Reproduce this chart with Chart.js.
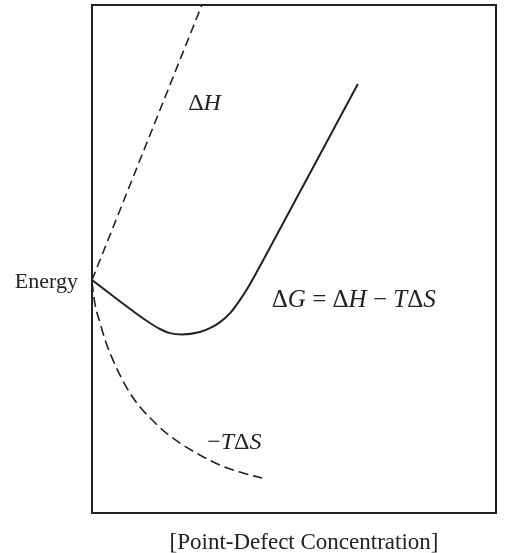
<!DOCTYPE html>
<html lang="en">
<head>
  <meta charset="UTF-8"/>
  <title>Point-defect free energy</title>
  <script src="https://cdn.jsdelivr.net/npm/chart.js"></script>
  <style>
    html, body { margin: 0; padding: 0; background: #fff; }
    #wrap { width: 515px; height: 553px; }
  </style>
</head>
<body>
  <div id="wrap"><canvas id="chart" width="515" height="553"></canvas></div>

  <script>
    // Schematic data (concentration 0-100, energy in arbitrary units, 0 = start)
    const enthalpyX = [0, 27.2];
    const enthalpyY = [0, 100];

    const gibbsX = [0, 13.6, 16.8, 19.3, 22.3, 26.7, 29.2, 31.7, 34.2, 36.6, 39.1, 42.1, 65.8];
    const gibbsY = [0, -14.9, -17.8, -19.3, -19.8, -18.9, -17.5, -15.3, -12.0, -7.3, -1.5, 6.5, 71.3];

    const entropyX = [0, 0.7, 2.0, 3.5, 5.2, 6.9, 9.4, 11.9, 14.9, 18.1, 21.8, 26.7, 31.7, 36.6, 42.1];
    const entropyY = [-0.7, -8.4, -15.6, -22.9, -29.1, -34.5, -41.1, -46.2, -50.9, -55.3, -59.3, -63.6, -67.3, -69.8, -72.0];

    const xTitle = '[Point-Defect Concentration]';
    const yTitle = 'Energy';

    const toPoints = (xs, ys) => xs.map((x, i) => ({ x: x, y: ys[i] }));
    const ink = '#222';

    // Box, axis labels and curve labels
    const labelsPlugin = {
      id: 'labels',
      afterDraw(chart) {
        const ctx = chart.ctx;
        const a = chart.chartArea;
        const xs = chart.scales.x, ys = chart.scales.y;
        ctx.save();
        ctx.strokeStyle = ink;
        ctx.lineWidth = 2;
        ctx.strokeRect(a.left, a.top, a.right - a.left, a.bottom - a.top);

        ctx.fillStyle = '#222';
        ctx.textBaseline = 'middle';
        ctx.font = '22px "Liberation Serif"';
        ctx.textAlign = 'right';
        ctx.fillText(yTitle, a.left - 14, ys.getPixelForValue(0) + 2);
        ctx.font = '23px "Liberation Serif"';
        ctx.textAlign = 'center';
        ctx.fillText(xTitle, (a.left + a.right) / 2 + 10, a.bottom + 30);

        // mixed upright / italic text runs
        function runs(parts, x, y, size) {
          ctx.textAlign = 'left';
          let cx = x;
          parts.forEach(p => {
            ctx.font = (p[1] ? 'italic ' : '') + size + 'px "Liberation Serif"';
            ctx.fillText(p[0], cx, y);
            cx += ctx.measureText(p[0]).width;
          });
        }
        runs([['\u0394', 0], ['H', 1]], xs.getPixelForValue(23.8), ys.getPixelForValue(64), 24);
        runs([['\u0394', 0], ['G', 1], [' = \u0394', 0], ['H', 1], [' \u2212 ', 0], ['T', 1], ['\u0394', 0], ['S', 1]],
             xs.getPixelForValue(44.5), ys.getPixelForValue(-7.3), 25);
        runs([['\u2212', 0], ['T', 1], ['\u0394', 0], ['S', 1]], xs.getPixelForValue(28.5), ys.getPixelForValue(-59), 24);
        ctx.restore();
      }
    };

    new Chart(document.getElementById('chart'), {
      type: 'scatter',
      data: {
        datasets: [
          { label: 'ΔH', data: toPoints(enthalpyX, enthalpyY), showLine: true,
            borderColor: ink, borderWidth: 1.6, borderDash: [9, 5], pointRadius: 0 },
          { label: 'ΔG', data: toPoints(gibbsX, gibbsY), showLine: true,
            borderColor: ink, borderWidth: 2, pointRadius: 0, cubicInterpolationMode: 'monotone' },
          { label: '-TΔS', data: toPoints(entropyX, entropyY), showLine: true,
            borderColor: ink, borderWidth: 1.6, borderDash: [10, 5], pointRadius: 0, cubicInterpolationMode: 'monotone' }
        ]
      },
      options: {
        responsive: false,
        animation: false,
        layout: { padding: { left: 92, top: 5, right: 19, bottom: 40 } },
        plugins: { legend: { display: false }, tooltip: { enabled: false } },
        scales: {
          x: { type: 'linear', display: false, min: 0, max: 100 },
          y: { type: 'linear', display: false, min: -84.7, max: 100 }
        }
      },
      plugins: [labelsPlugin]
    });
  </script>
</body>
</html>
